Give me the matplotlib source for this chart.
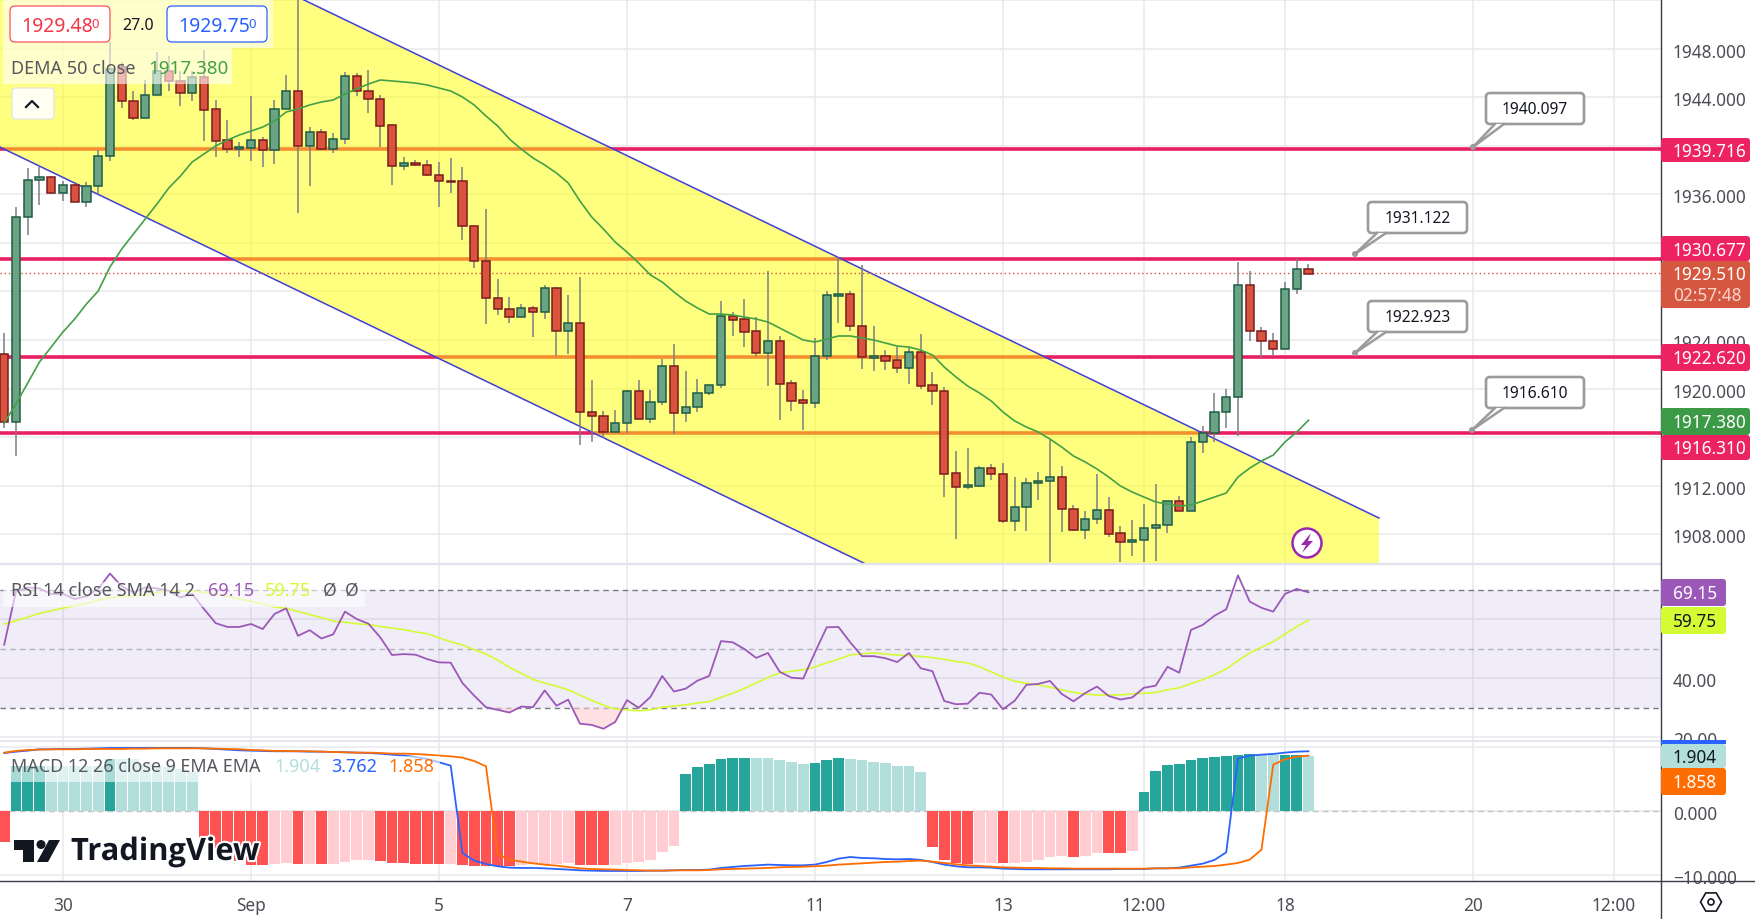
import numpy as np
import matplotlib
matplotlib.use("Agg")
import matplotlib.pyplot as plt
from matplotlib.patches import FancyBboxPatch, Polygon, Circle, Rectangle, RegularPolygon
from matplotlib.transforms import ScaledTranslation
import matplotlib.patheffects as pe

plt.rcParams['font.family'] = ['Noto Sans', 'DejaVu Sans']

# ---------- data ----------
opens = [1922.84,1917.23,1934.14,1937.19,1937.44,1936.12,1936.78,1935.38,1936.70,1939.17,1946.51,1943.71,1942.31,1944.20,1946.18,1945.36,
1944.37,1945.69,1943.05,1940.49,1939.75,1939.83,1940.49,1939.67,1943.05,1944.53,1940.00,1941.15,1939.75,1940.57,1945.77,1944.53,
1943.87,1941.73,1938.35,1938.59,1938.43,1937.61,1937.11,1937.11,1933.40,1930.51,1927.46,1926.55,1925.89,1926.64,1926.31,1928.29,
1924.74,1925.40,1918.06,1917.73,1916.41,1917.15,1919.79,1917.48,1918.88,1921.85,1917.98,1918.47,1919.63,1920.29,1925.98,1925.73,
1924.74,1922.93,1923.92,1920.45,1919.05,1918.80,1922.68,1927.62,1927.79,1925.15,1922.51,1922.68,1922.35,1921.69,1923.01,1920.29,
1919.79,1913.03,1911.87,1911.96,1913.44,1912.95,1909.07,1910.23,1912.21,1912.37,1912.70,1910.06,1908.33,1909.24,1909.98,1908.08,
1907.34,1907.50,1908.49,1908.74,1910.72,1909.90,1915.59,1916.33,1918.06,1919.30,1928.53,1924.74,1923.92,1923.26,1928.20,1929.85]
closes = [1917.23,1934.14,1937.19,1937.44,1936.12,1936.78,1935.38,1936.70,1939.17,1946.35,1943.71,1942.31,1944.20,1946.18,1945.36,1944.37,
1945.69,1942.97,1940.41,1939.75,1939.91,1940.49,1939.67,1943.05,1944.53,1940.00,1941.15,1939.75,1940.57,1945.77,1944.53,1943.87,
1941.65,1938.35,1938.59,1938.43,1937.61,1937.11,1937.03,1933.40,1930.51,1927.46,1926.55,1925.89,1926.64,1926.31,1928.29,1924.74,
1925.40,1918.06,1917.73,1916.41,1917.15,1919.79,1917.48,1918.88,1921.85,1917.98,1918.47,1919.63,1920.29,1925.98,1925.65,1924.66,
1922.93,1923.92,1920.37,1918.97,1918.80,1922.68,1927.71,1927.79,1925.15,1922.60,1922.68,1922.27,1921.69,1923.01,1920.20,1919.79,
1912.95,1911.87,1912.04,1913.44,1912.95,1909.07,1910.23,1912.21,1912.37,1912.70,1910.06,1908.33,1909.24,1909.98,1908.00,1907.34,
1907.50,1908.49,1908.74,1910.72,1909.90,1915.59,1916.33,1918.06,1919.30,1928.53,1924.74,1923.92,1923.26,1928.20,1929.85,1929.44]
highs = [1924.57,1934.97,1938.18,1938.27,1937.52,1937.11,1937.03,1937.03,1939.67,1948.57,1946.92,1944.53,1945.44,1947.75,1947.42,1946.18,
1946.18,1947.91,1943.79,1942.14,1940.33,1944.12,1940.74,1943.79,1945.85,1953.00,1941.56,1941.40,1941.07,1946.10,1946.02,1946.26,
1944.20,1941.81,1939.09,1938.84,1938.84,1938.68,1939.01,1938.27,1933.48,1934.80,1929.03,1927.54,1926.97,1926.80,1928.53,1928.37,
1927.71,1929.19,1920.70,1918.14,1918.22,1919.87,1920.70,1919.87,1922.43,1923.67,1921.44,1920.78,1920.29,1927.21,1926.31,1927.38,
1925.89,1929.69,1924.33,1920.70,1919.87,1924.16,1928.04,1930.84,1928.04,1930.18,1925.15,1923.17,1923.42,1923.42,1924.49,1921.36,
1920.12,1914.84,1915.09,1913.61,1913.77,1913.85,1912.70,1912.62,1913.11,1915.83,1913.61,1910.39,1909.90,1912.95,1911.05,1908.66,
1909.15,1910.47,1912.12,1910.72,1911.13,1916.00,1916.90,1919.63,1919.96,1930.43,1929.69,1925.07,1924.57,1928.78,1930.68,1930.27]
lows = [1916.74,1914.43,1932.66,1935.13,1936.04,1935.46,1935.38,1934.97,1936.04,1938.76,1943.13,1942.14,1942.31,1944.20,1944.53,1943.30,
1943.71,1940.41,1939.09,1939.42,1939.09,1938.76,1938.27,1938.51,1943.05,1934.47,1936.70,1939.67,1939.42,1940.16,1944.12,1942.72,
1939.91,1936.78,1938.02,1938.35,1937.52,1934.97,1936.12,1932.24,1929.94,1925.32,1926.06,1925.40,1925.89,1924.25,1925.73,1922.68,
1922.84,1915.34,1915.59,1915.92,1916.41,1916.33,1917.48,1917.15,1918.64,1916.25,1917.23,1918.06,1919.46,1920.04,1924.33,1923.42,
1922.68,1920.20,1917.40,1918.14,1916.58,1918.39,1922.35,1925.40,1924.74,1921.61,1921.44,1921.52,1921.28,1920.37,1919.96,1918.64,
1911.05,1907.59,1911.71,1911.87,1912.45,1908.91,1908.25,1908.25,1910.80,1905.69,1908.16,1908.25,1907.59,1908.82,1907.75,1905.69,
1906.18,1905.69,1905.77,1908.08,1909.90,1909.90,1914.68,1915.59,1916.74,1916.08,1923.92,1922.51,1922.68,1923.26,1927.79,1929.44]
dema = [1917.15,1918.72,1920.45,1922.18,1923.42,1924.66,1925.73,1926.97,1928.04,1930.02,1931.50,1932.74,1933.98,1935.21,1936.53,1937.52,
1938.68,1939.34,1940.00,1940.49,1940.90,1941.23,1941.56,1942.06,1942.80,1943.05,1943.38,1943.63,1943.79,1944.29,1944.70,1945.11,
1945.44,1945.36,1945.28,1945.19,1945.03,1944.78,1944.53,1944.04,1943.38,1942.47,1941.65,1940.57,1939.75,1939.01,1938.43,1937.77,
1936.95,1935.46,1934.14,1933.15,1932.08,1931.25,1930.35,1929.36,1928.78,1927.96,1927.21,1926.64,1926.14,1926.14,1926.06,1925.89,
1925.73,1925.48,1924.99,1924.49,1924.00,1923.83,1924.08,1924.33,1924.33,1924.16,1924.00,1923.75,1923.50,1923.42,1923.17,1922.76,
1921.77,1920.95,1920.20,1919.63,1918.97,1918.06,1917.32,1916.82,1916.41,1915.83,1915.17,1914.43,1913.94,1913.36,1912.70,1911.96,
1911.46,1911.05,1910.64,1910.47,1910.31,1910.39,1910.72,1911.05,1911.38,1912.70,1913.44,1914.02,1914.51,1915.59,1916.41,1917.38]
rsi = [51.4,69.4,70.8,70.5,68.6,68.6,66.9,67.8,70.3,75.5,71.2,69.1,70.8,70.5,69.7,67.4,68.6,63.5,58.7,57.4,57.4,58.4,56.7,61.8,63.7,54.4,
56.3,53.5,54.9,62.6,60.1,58.5,53.9,47.9,48.2,48.0,46.5,45.4,45.3,38.4,34.1,30.2,29.3,28.4,30.4,30.2,35.9,30.7,32.75,24.6,24.2,22.9,25.2,
32.6,30.0,33.7,40.8,35.5,36.5,39.2,40.8,52.6,52.2,49.9,46.9,48.6,42.2,40.2,39.9,48.8,57.3,57.4,52.2,47.5,47.5,46.8,45.5,48.6,43.4,42.4,
32.3,31.2,31.4,35.1,34.5,29.5,32.4,37.8,38.1,39.1,34.7,32.2,35.0,37.2,34.0,32.8,33.5,36.8,37.5,43.9,41.9,56.4,58.1,61.2,63.4,74.9,66.0,
63.9,62.6,68.6,70.3,69.15]
rsi_sma = [58.4,59.5,60.7,62.0,62.9,63.8,64.6,65.3,66.5,67.3,67.8,67.9,68.2,69.0,69.7,69.5,69.6,69.1,68.5,67.8,66.9,66.1,65.2,64.2,63.7,62.7,
61.6,60.6,59.4,59.0,58.5,58.2,57.6,57.0,56.5,55.7,55.1,53.7,52.4,51.3,49.7,48.2,46.2,43.7,41.7,39.6,38.4,37.3,36.1,34.3,32.5,30.9,29.6,
29.3,29.0,29.3,30.2,30.6,31.0,31.6,32.1,33.5,34.9,36.6,38.4,40.3,41.8,42.4,42.9,43.9,45.2,46.5,47.9,48.3,48.6,48.2,47.9,47.7,47.4,47.0,
46.4,45.7,45.2,43.9,42.2,40.4,39.0,38.3,37.7,37.0,36.1,35.2,34.7,34.3,34.3,34.4,34.7,34.9,35.2,36.1,36.8,38.2,39.5,41.2,43.2,46.0,48.6,
50.5,52.4,55.0,57.5,59.75]
macd_hist = [-4.74,7.03,7.03,7.14,7.14,7.14,7.14,7.14,7.14,8.18,8.18,8.18,7.40,7.14,6.88,6.61,6.09,-4.84,-5.89,-6.93,-7.71,-8.33,-8.33,-8.23,
-8.07,-8.23,-8.23,-8.23,-8.23,-7.92,-7.60,-7.60,-7.76,-8.07,-8.07,-8.23,-8.23,-8.23,-8.23,-8.33,-8.49,-8.54,-8.54,-8.54,-8.39,-8.28,-8.28,
-8.23,-8.07,-8.39,-8.33,-8.33,-8.33,-8.07,-7.92,-7.60,-6.35,-5.42,5.83,6.93,7.40,8.18,8.33,8.33,8.33,8.33,8.02,7.71,7.40,7.55,8.02,8.33,
8.18,8.02,7.71,7.55,7.08,7.08,6.15,-5.57,-7.60,-8.07,-8.23,-8.07,-8.07,-8.07,-8.07,-7.92,-7.60,-7.14,-6.98,-7.14,-6.98,-6.51,-6.51,-6.51,
-6.20,3.02,6.30,7.24,7.40,8.02,8.33,8.49,8.65,8.80,8.96,8.80,8.80,8.80,8.80,8.65]
macd_dark = [1,1,1,1,0,0,0,0,0,1,0,0,0,0,0,0,0,1,1,1,1,1,1,0,0,1,0,1,0,0,0,0,1,1,1,1,1,1,0,1,1,1,1,1,0,0,0,0,0,1,1,1,0,0,0,0,0,0,
1,1,1,1,1,1,0,0,0,0,0,1,1,1,0,0,0,0,0,0,0,1,1,1,1,0,0,1,0,0,0,0,0,1,0,0,1,1,0,1,1,1,1,1,1,1,1,1,1,0,0,1,1,0]
macd_line = [9.11,9.32,9.48,9.69,9.69,9.74,9.74,9.79,9.84,9.90,9.90,9.90,9.90,9.90,9.90,9.90,9.90,9.84,9.74,9.64,9.53,9.48,9.43,9.38,9.38,9.38,
9.32,9.32,9.27,9.22,9.17,9.11,9.01,8.85,8.70,8.49,8.18,7.66,7.14,-6.51,-7.71,-8.23,-8.59,-8.80,-8.85,-8.85,-8.91,-9.01,-9.11,-9.22,-9.27,
-9.32,-9.32,-9.32,-9.32,-9.27,-9.27,-9.22,-9.17,-9.17,-9.11,-8.85,-8.70,-8.54,-8.44,-8.33,-8.39,-8.44,-8.44,-8.33,-7.92,-7.40,-7.14,-7.29,
-7.34,-7.45,-7.50,-7.45,-7.60,-7.92,-8.33,-8.59,-8.75,-8.75,-8.80,-8.96,-9.01,-9.06,-9.06,-9.06,-9.06,-9.06,-9.06,-9.06,-9.06,-9.01,-9.01,
-9.01,-8.91,-8.91,-8.80,-8.49,-8.18,-7.60,-6.41,8.28,8.70,8.85,8.96,9.17,9.32,9.38]
signal_line = [9.17,9.43,9.58,9.64,9.69,9.69,9.69,9.74,9.74,9.74,9.74,9.79,9.79,9.84,9.84,9.84,9.84,9.84,9.79,9.74,9.69,9.58,9.53,9.43,9.43,9.38,
9.38,9.32,9.27,9.22,9.17,9.17,9.11,9.01,9.01,8.96,8.85,8.70,8.59,8.39,7.86,7.03,-6.67,-7.55,-7.86,-8.13,-8.33,-8.49,-8.70,-8.91,-9.01,-9.06,
-9.11,-9.17,-9.22,-9.27,-9.27,-9.22,-9.22,-9.22,-9.17,-9.06,-9.01,-8.96,-8.91,-8.85,-8.75,-8.70,-8.65,-8.59,-8.49,-8.33,-8.23,-8.13,-8.02,
-7.92,-7.86,-7.76,-7.71,-7.86,-8.07,-8.28,-8.44,-8.54,-8.65,-8.75,-8.80,-8.85,-8.85,-8.91,-8.91,-8.96,-8.96,-8.96,-8.96,-8.96,-8.96,-8.96,
-8.91,-8.91,-8.91,-8.75,-8.65,-8.54,-8.33,-8.07,-7.55,-5.99,7.29,8.13,8.54,8.70]

levels = [1939.716, 1930.677, 1922.620, 1916.310]
last_price = 1929.51
channel_i = [-0.36, 25.34, 117.0]
channel_upper = [1964.12, 1952.12, 1909.32]
channel_lower = [1939.91, 1927.91, 1885.15]
date_pos = [5, 21, 37, 53, 69, 85, 97, 109, 125, 137]
date_labels = ['30', 'Sep', '5', '7', '11', '13', '12:00', '18', '20', '12:00']
price_ticks = [1908, 1912, 1916, 1920, 1924, 1928, 1932, 1936, 1940, 1944, 1948, 1952]
price_labels = ['1908.000', '1912.000', '', '1920.000', '1924.000', '', '', '1936.000', '', '1944.000', '1948.000', '']
rsi_ticks = [20, 40, 60]
rsi_labels = ['20.00', '40.00', '']
macd_ticks = [-10, 0, 10]
macd_labels = ['\u221210.000', '0.000', '']

# ---------- layout ----------
W, H = 1756, 920
PX = 1661
fig = plt.figure(figsize=(W/100, H/100), dpi=100, facecolor='white')
def pane(y0, y1):
    return fig.add_axes([0, 1-y1/H, PX/W, (y1-y0)/H])
ax = pane(0, 564)
ar = pane(566, 741)
am = pane(743, 882)
idx = np.arange(len(opens))
xlim = (-0.357, 141.0)
GRID = '#e9e9ec'
TXT = '#4c4e55'

for a in (ax, ar, am):
    a.set_xlim(*xlim)
    a.set_facecolor('white')
    for s in a.spines.values():
        s.set_visible(False)
    a.set_xticks(date_pos)
    a.grid(True, axis='both', color=GRID, lw=1.1, zorder=0)
    a.set_axisbelow(True)
    a.yaxis.tick_right()
    a.tick_params(axis='y', length=0, pad=8.6, labelsize=12.4, labelcolor=TXT)
    a.tick_params(axis='x', length=0, labelbottom=False)
am.tick_params(axis='x', labelbottom=True, pad=10.8, labelsize=12.4, labelcolor=TXT)
am.set_xticklabels(date_labels)

# ---------- main pane ----------
ax.set_ylim(1905.61, 1952.12)
ax.set_yticks(price_ticks)
ax.set_yticklabels(price_labels)
for lv in levels:
    ax.axhline(lv, color='#ea1f63', lw=2.6, zorder=1)
ax.fill_between(channel_i, channel_lower, channel_upper, facecolor='#ffff00', alpha=0.5, lw=0, zorder=2)
ax.plot(channel_i, channel_upper, color='#3f3fd8', lw=1.1, zorder=3)
ax.plot(channel_i, channel_lower, color='#3f3fd8', lw=1.1, zorder=3)
ax.axhline(last_price, color='#e0503c', lw=1, ls=(0, (1, 2)), zorder=3)
o, c = np.array(opens), np.array(closes)
up = c >= o
ax.vlines(idx, lows, highs, color='#7b7d85', lw=1.1, zorder=4)
ax.bar(idx[up], (c-o)[up], bottom=o[up], width=0.7, color='#6aa484', edgecolor='#1f5c45', lw=1.1, zorder=5)
ax.bar(idx[~up], (c-o)[~up], bottom=o[~up], width=0.7, color='#d9533f', edgecolor='#7a1c1c', lw=1.1, zorder=5)
ax.plot(idx, dema, color='#43a047', lw=1.2, zorder=6)

# ---------- RSI pane ----------
ar.set_ylim(19.08, 78.41)
ar.set_yticks(rsi_ticks)
ar.set_yticklabels(rsi_labels)
ar.axhspan(30, 70, color='#7e57c2', alpha=0.11, lw=0, zorder=1)
for v, col in ((70, '#787b86'), (50, '#b3b5bc'), (30, '#787b86')):
    ar.axhline(v, color=col, lw=1, ls=(0, (4, 3)), zorder=2)
rsi_a = np.array(rsi)
ar.fill_between(idx, rsi_a, 30, where=rsi_a < 30, interpolate=True, color='#ffcdd2', alpha=0.6, lw=0, zorder=2)
ar.plot(idx, rsi_sma, color='#d4fc34', lw=1.2, zorder=3)
ar.plot(idx, rsi, color='#9c58b8', lw=1.3, zorder=4)

# ---------- MACD pane ----------
am.set_ylim(-10.89, 10.83)
am.set_yticks(macd_ticks)
am.set_yticklabels(macd_labels)
am.axhline(0, color='#c3c4ca', lw=1, ls=(0, (4, 3)), zorder=1)
h = np.array(macd_hist); d = np.array(macd_dark, bool)
cols = np.where(h >= 0, np.where(d, '#26a69a', '#b2dfdb'), np.where(d, '#ff5252', '#ffcdd2'))
am.bar(idx, h, width=0.92, color=list(cols), lw=0, zorder=2)
am.plot(idx, macd_line, color='#2962ff', lw=1.3, zorder=3)
am.plot(idx, signal_line, color='#ff6d00', lw=1.3, zorder=4)

# nudge tick labels one pixel down
nudge = ScaledTranslation(0, -1/100, fig.dpi_scale_trans)
for a in (ax, ar, am):
    for lab in a.get_yticklabels():
        lab.set_transform(lab.get_transform() + nudge)

# ---------- interface overlay (pixel space) ----------
ui = fig.add_axes([0, 0, 1, 1], zorder=10)
ui.set_xlim(0, W); ui.set_ylim(H, 0); ui.axis('off'); ui.patch.set_alpha(0)

def box(x0, y0, x1, y1, fc, ec='none', lw=0, r=3, alpha=None, z=2):
    p = FancyBboxPatch((x0, y0), x1-x0, y1-y0, boxstyle=f'round,pad=0,rounding_size={r}',
                       fc=fc, ec=ec, lw=lw, alpha=alpha, zorder=z, mutation_aspect=1)
    ui.add_patch(p)
def t(x, y, s, color=TXT, size=12.4, ha='left', z=5, **kw):
    ui.text(x, y, s, color=color, fontsize=size, ha=ha, va='center', zorder=z, **kw)

# separators and axis lines
ui.plot([0, PX], [565, 565], color='#e0e3eb', lw=1.6, zorder=1)
ui.plot([0, PX], [742, 742], color='#e0e3eb', lw=1.2, zorder=1)
ui.plot([0, W], [882, 882], color='#3a3d45', lw=1, zorder=1)
ui.plot([PX, PX], [0, H], color='#3a3d45', lw=1, zorder=1)

# price chips
def chip(y0, y1, col, s, tc='white', x1=1750):
    box(PX, y0, x1, y1, col)
    t(PX+12, (y0+y1)/2+1, s, color=tc, z=6)
PINK = '#ec2261'
chip(139, 163, PINK, '1939.716')
chip(237, 262, PINK, '1930.677')
box(PX, 262, 1750, 309, '#d6573f')
t(PX+12, 275.5, '1929.510', color='white')
t(PX+12, 296, '02:57:48', color='#fbd5cd')
chip(345, 372, PINK, '1922.620')
chip(409, 436, '#3c9a47', '1917.380')
chip(436, 461, PINK, '1916.310')
chip(580, 607, '#9c58b8', '69.15', x1=1726)
chip(608, 635, '#d4fc34', '59.75', tc='#131722', x1=1726)
ui.add_patch(Rectangle((PX, 741), 65, 4, fc='#2962ff', zorder=3))
chip(745, 769, '#b2dfdb', '1.904', tc='#131722', x1=1726)
chip(769, 796, '#ff6d00', '1.858', x1=1726)

# callouts
def callout(x0, y0, x1, y1, tipx, tipy, s):
    base0, base1 = x0+9, x0+18
    box(x0, y0, x1, y1, 'white', ec='#9b9b9b', lw=1.9, r=4, z=2)
    ui.add_patch(Polygon([(tipx, tipy), (base0, y1), (base1, y1)], fc='white', ec='none', zorder=3))
    ui.plot([tipx, base0], [tipy, y1], color='#9b9b9b', lw=1.8, zorder=4)
    ui.plot([tipx, base1], [tipy, y1], color='#9b9b9b', lw=1.8, zorder=4)
    ui.add_patch(Circle((tipx, tipy), 3, fc='#9b9b9b', ec='none', zorder=4))
    t((x0+x1)/2, (y0+y1)/2+0.5, s, color='#131722', size=11.2, ha='center')
callout(1486, 94, 1584, 125, 1473, 148, '1940.097')
callout(1368, 203, 1467, 234, 1355, 255, '1931.122')
callout(1368, 302, 1467, 333, 1355, 354, '1922.923')
callout(1486, 378, 1584, 409, 1472, 431, '1916.610')

# top-left legend
ui.add_patch(Rectangle((3, 0), 270, 49, fc='white', alpha=0.6, lw=0, zorder=2))
ui.add_patch(Rectangle((3, 49), 229, 36, fc='white', alpha=0.6, lw=0, zorder=2))
box(10, 7, 110, 43, 'white', ec='#f7525f', lw=0.9, r=5, z=3)
t(21, 26.5, '1929.48', color='#f23645', size=14)
t(91, 24, '0', color='#f23645', size=9.5)
t(122, 26.5, '27.0', color='#131722', size=11.5)
box(167, 7, 267, 43, 'white', ec='#2962ff', lw=0.9, r=5, z=3)
t(178, 26.5, '1929.75', color='#2962ff', size=14)
t(248, 24, '0', color='#2962ff', size=9.5)
t(11, 68.5, 'DEMA 50 close', color='#55575e', size=13)
t(148, 68.5, '1917.380', color='#43a047', size=13.5)
box(12, 89, 54, 120, '#fffff2', ec='#e3e4e6', lw=0.9, r=4, z=3)
ui.plot([26, 32, 38], [108, 102, 108], color='#131722', lw=1.6, zorder=5)

# RSI legend
ui.add_patch(Rectangle((3, 583), 362, 25, fc='white', alpha=0.6, lw=0, zorder=2))
t(11, 591, 'RSI 14 close SMA 14 2', color='#55575e', size=13)
t(208, 591, '69.15', color='#9c58b8', size=13)
t(265, 591, '59.75', color='#d4fc34', size=13)
t(323, 591, '\u00d8', color='#55575e', size=12.6)
t(345, 591, '\u00d8', color='#55575e', size=12.6)

# MACD legend
ui.add_patch(Rectangle((3, 757), 437, 26, fc='white', alpha=0.6, lw=0, zorder=2))
t(11, 767, 'MACD 12 26 close 9 EMA EMA', color='#55575e', size=12.9)
t(274, 767, '1.904', color='#b2dfdb', size=13)
t(331, 767, '3.762', color='#2962ff', size=13)
t(388, 767, '1.858', color='#ff6d00', size=13)

# TradingView logo
LOGO = '#131722'
halo = [pe.Stroke(linewidth=3, foreground='white'), pe.Normal()]
ui.add_patch(Polygon([(14.5, 841), (33.7, 841), (33.7, 863), (23, 863), (23, 850.5), (14.5, 850.5)], fc=LOGO, ec='none', zorder=7))
ui.add_patch(Circle((41, 845.5), 4.5, fc=LOGO, ec='none', zorder=7))
ui.add_patch(Polygon([(49, 841), (60, 841), (48, 863), (37, 863)], fc=LOGO, ec='none', zorder=7))
ui.text(71, 853, 'TradingView', color=LOGO, fontsize=22.2, fontweight='bold', va='center', ha='left',
        zorder=7, family=['Open Sans', 'DejaVu Sans'], path_effects=halo)

# flash icon
ui.add_patch(Circle((1307, 544), 14.5, fc='white', ec='#9c27b0', lw=1.8, zorder=3))
ui.add_patch(Polygon([(1311, 534), (1301, 546), (1306, 546), (1302, 554), (1313, 542), (1308, 542)], fc='#9c27b0', ec='none', zorder=4))

# settings icon
ui.add_patch(RegularPolygon((1711, 903), 6, radius=10.5, orientation=np.pi/6, fc='white', ec='#131722', lw=1.2, zorder=3))
ui.add_patch(Circle((1711, 903), 3, fc='white', ec='#131722', lw=1.2, zorder=4))

fig.savefig('out.png', dpi=100)
